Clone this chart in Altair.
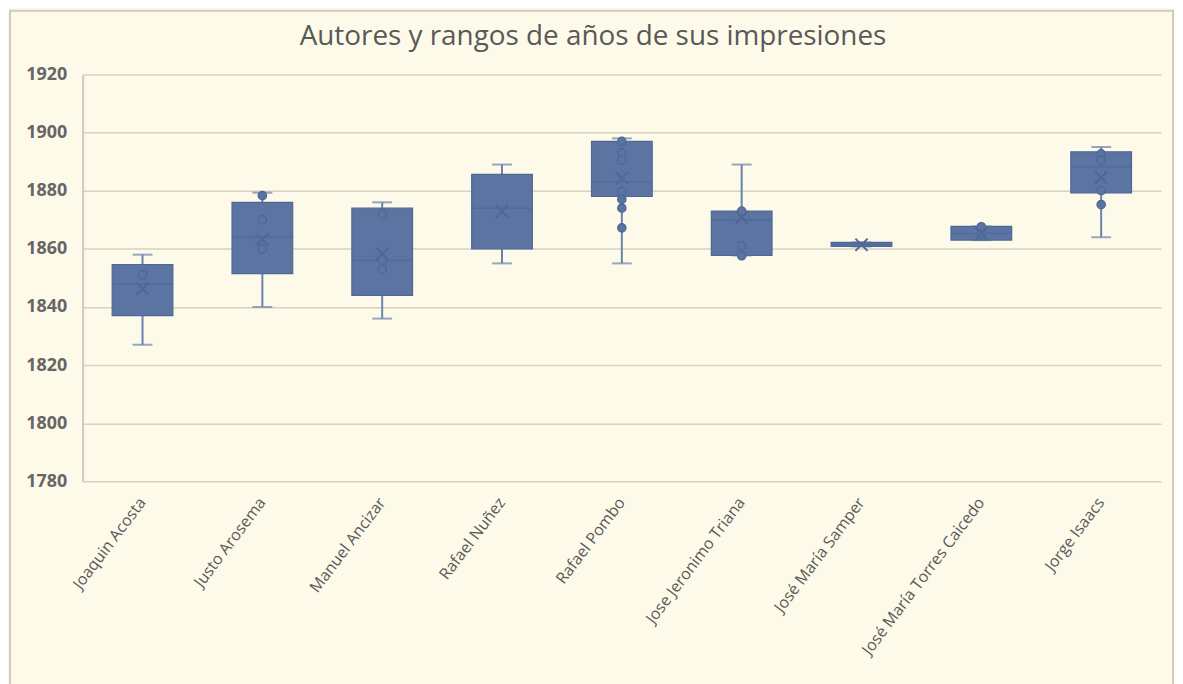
import altair as alt
import pandas as pd

authors = ["Joaquin Acosta", "Justo Arosema", "Manuel Ancizar", "Rafael Nuñez",
           "Rafael Pombo", "Jose Jeronimo Triana", "José María Samper",
           "José María Torres Caicedo", "Jorge Isaacs"]
whisker_low = [1827, 1840, 1836, 1855, 1855, 1857.7, 1860.8, 1863, 1864]
q1 = [1837, 1851.5, 1844, 1860, 1878, 1857.7, 1860.8, 1863, 1879.2]
median = [1848, 1864, 1856, 1874, 1883, 1870, 1861.5, 1865.3, 1888.2]
q3 = [1854.6, 1876, 1874, 1885.6, 1897, 1873, 1862.2, 1867.7, 1893.4]
whisker_high = [1858, 1879.3, 1876, 1889, 1898, 1889, 1862.2, 1867.7, 1895]
mean = [1846.3, 1863.2, 1858.3, 1872.9, 1884.3, 1870.8, 1861.4, 1865.3, 1884.5]
points = [
    [1851],
    [1878.3, 1870, 1860],
    [1872, 1856.2, 1853],
    [],
    [1897, 1893, 1890.5, 1879.7, 1877, 1874, 1867.2],
    [1873, 1861, 1857.6],
    [],
    [1867.6, 1865],
    [1892.7, 1890.5, 1880, 1875.2],
]

stats = pd.DataFrame({
    "author": authors, "low": whisker_low, "q1": q1, "median": median,
    "q3": q3, "high": whisker_high, "mean": mean,
})
pts = pd.DataFrame([{"author": a, "value": v} for a, vs in zip(authors, points) for v in vs])
caps = pd.concat([
    stats[["author", "low"]].rename(columns={"low": "v"}),
    stats[["author", "high"]].rename(columns={"high": "v"}),
])

BG = "#FEFAE9"
FILL = "#5B74A1"
LINE = "#6A83AC"
DARK = "#4E6797"

W, H = 1084, 409

xenc = alt.X("author:N", sort=authors, title=None,
             scale=alt.Scale(paddingInner=0, paddingOuter=0),
             axis=alt.Axis(labelAngle=-53, labelAlign="right", labelBaseline="middle",
                           labelPadding=18, ticks=False, domain=False, grid=False,
                           labelLimit=400,
                           labelFontSize=16, labelColor="#595959", labelFont="Open Sans"))
yscale = alt.Scale(domain=[1780, 1920], nice=False, zero=False)
yenc_axis = alt.Axis(values=list(range(1780, 1921, 20)), format="d", ticks=False,
                     domain=True, domainColor="#CFCABB", domainWidth=2,
                     grid=True, gridColor="#D6D1C1", gridWidth=1.5,
                     labelFontSize=18, labelFontWeight="bold", labelColor="#666666",
                     labelPadding=16, labelFont="Open Sans")

base = alt.Chart(stats)

whisk = base.mark_rule(color=LINE, strokeWidth=2).encode(
    x=xenc,
    y=alt.Y("low:Q", scale=yscale, axis=yenc_axis, title=None),
    y2="high:Q",
)
cap = alt.Chart(caps).mark_tick(color=LINE, thickness=2, size=20, orient="horizontal").encode(
    x=alt.X("author:N", sort=authors), y=alt.Y("v:Q", scale=yscale))
box = base.mark_bar(color=FILL, stroke=DARK, strokeWidth=1.2, size=61).encode(
    x=alt.X("author:N", sort=authors), y=alt.Y("q1:Q", scale=yscale), y2="q3:Q")
med = base.mark_tick(color=DARK, thickness=1.5, size=61, orient="horizontal").encode(
    x=alt.X("author:N", sort=authors), y=alt.Y("median:Q", scale=yscale))
dots = alt.Chart(pts).mark_point(shape="circle", filled=False, fill=FILL, fillOpacity=1,
                                 stroke=DARK, strokeWidth=1.3, size=70, opacity=1).encode(
    x=alt.X("author:N", sort=authors), y=alt.Y("value:Q", scale=yscale))
mn = base.mark_point(shape="M-1,-1L1,1M-1,1L1,-1", filled=False, stroke=DARK,
                     strokeWidth=2, size=150, opacity=1).encode(
    x=alt.X("author:N", sort=authors), y=alt.Y("mean:Q", scale=yscale))
frame = alt.Chart(pd.DataFrame({"a": [0]})).mark_rect(
    fill=None, stroke="#D0CBBD", strokeWidth=2, clip=False).encode(
    x=alt.value(-73), x2=alt.value(W + 12), y=alt.value(-64), y2=alt.value(H + 240))

chart = alt.layer(whisk, cap, box, med, dots, mn, frame).properties(
    width=W, height=H,
    title=alt.TitleParams("Autores y rangos de años de sus impresiones",
                          fontSize=28, font="Open Sans", fontWeight="normal",
                          color="#595959", dx=-29, offset=-41, frame="group"),
    background=BG,
    padding={"left": 75, "top": 65, "right": 14, "bottom": 220},
    autosize=alt.AutoSizeParams(type="none"),
).configure_view(stroke=None)

chart.save("out.html", embed_options={"renderer": "svg", "actions": False})
